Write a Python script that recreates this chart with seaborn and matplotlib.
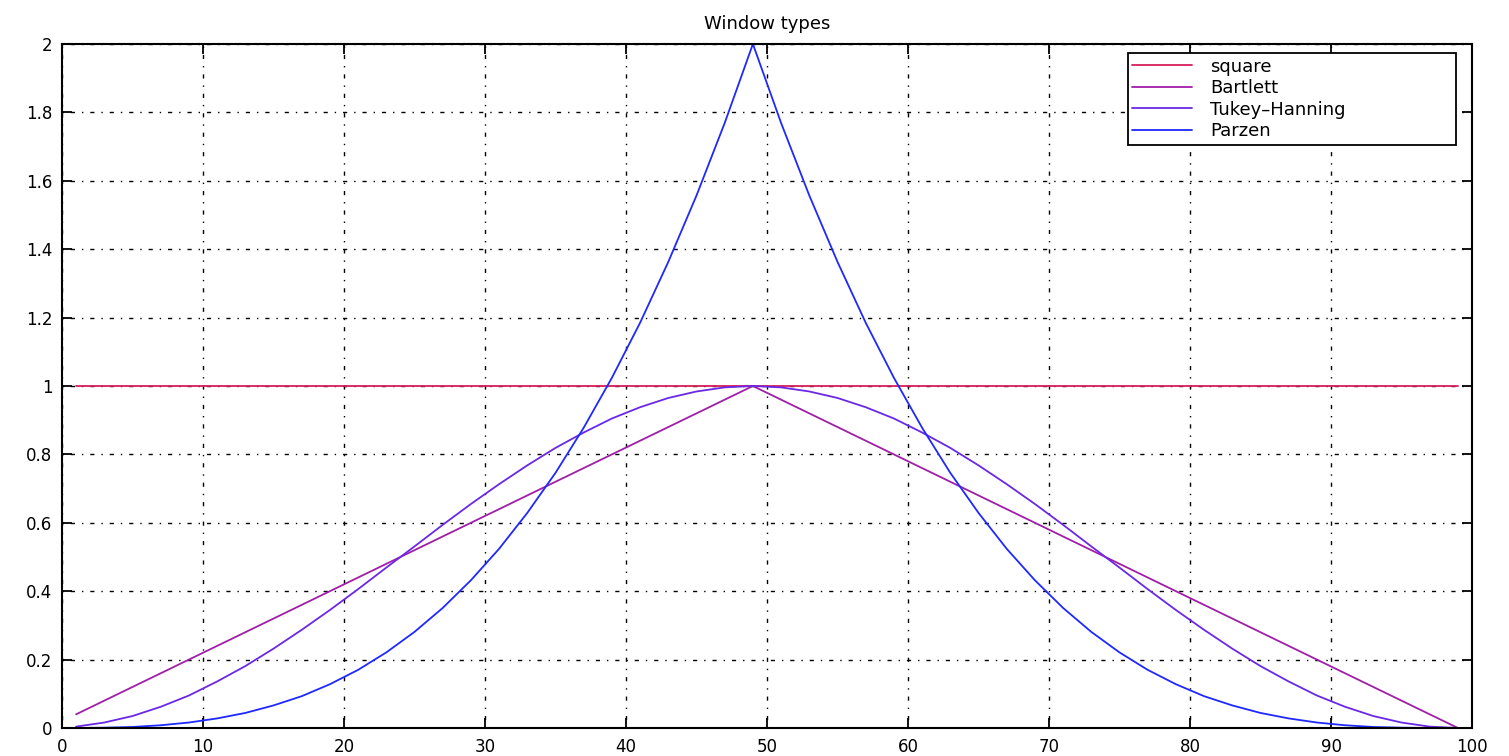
import pandas as pd
import matplotlib
matplotlib.use("Agg")
import matplotlib.pyplot as plt
import seaborn as sns

# sample positions (lag index)
x = list(range(1, 100, 2))

square = [1.0] * 50
bartlett = [0.04, 0.08, 0.12, 0.16, 0.20, 0.24, 0.28, 0.32, 0.36, 0.40, 0.44, 0.48,
            0.52, 0.56, 0.60, 0.64, 0.68, 0.72, 0.76, 0.80, 0.84, 0.88, 0.92, 0.96,
            1.00,
            0.96, 0.92, 0.88, 0.84, 0.80, 0.76, 0.72, 0.68, 0.64, 0.60, 0.56, 0.52,
            0.48, 0.44, 0.40, 0.36, 0.32, 0.28, 0.24, 0.20, 0.16, 0.12, 0.08, 0.04, 0.0]
tukey = [0.004, 0.016, 0.035, 0.062, 0.095, 0.136, 0.181, 0.232, 0.287, 0.345, 0.406, 0.469,
         0.531, 0.594, 0.655, 0.713, 0.768, 0.819, 0.864, 0.905, 0.938, 0.965, 0.984, 0.996,
         1.000,
         0.996, 0.984, 0.965, 0.938, 0.905, 0.864, 0.819, 0.768, 0.713, 0.655, 0.594, 0.531,
         0.469, 0.406, 0.345, 0.287, 0.232, 0.181, 0.136, 0.095, 0.062, 0.035, 0.016, 0.004, 0.0]
parzen = [0.000, 0.001, 0.003, 0.008, 0.016, 0.028, 0.044, 0.066, 0.093, 0.128, 0.170, 0.221,
          0.281, 0.351, 0.432, 0.524, 0.629, 0.746, 0.878, 1.024, 1.185, 1.363, 1.557, 1.769,
          2.000,
          1.769, 1.557, 1.363, 1.185, 1.024, 0.878, 0.746, 0.629, 0.524, 0.432, 0.351, 0.281,
          0.221, 0.170, 0.128, 0.093, 0.066, 0.044, 0.028, 0.016, 0.008, 0.003, 0.001, 0.000, 0.0]

names = ['square', 'Bartlett', 'Tukey\u2013Hanning', 'Parzen']
colors = ['#d81c5a', '#a01ea8', '#6a28e6', '#1e28ff']

frames = []
for name, vals in zip(names, [square, bartlett, tukey, parzen]):
    frames.append(pd.DataFrame({'lag': x, 'w': vals, 'window': name}))
df = pd.concat(frames, ignore_index=True)

sns.set_style("white")
plt.rcParams['font.family'] = ['DejaVu Sans']
plt.rcParams['text.color'] = 'black'

fig = plt.figure(figsize=(15.09, 7.56), dpi=100)
ax = fig.add_axes([62 / 1509, 1 - 728 / 756, (1472 - 62) / 1509, (728 - 44) / 756])

sns.lineplot(data=df, x='lag', y='w', hue='window', hue_order=names,
             palette=dict(zip(names, colors)), linewidth=1.3, ax=ax, zorder=3)

ax.set_xlim(0, 100)
ax.set_ylim(0, 2)
ax.set_xticks(range(0, 101, 10))
ax.set_yticks([0, 0.2, 0.4, 0.6, 0.8, 1, 1.2, 1.4, 1.6, 1.8, 2])
ax.set_yticklabels(['0', '0.2', '0.4', '0.6', '0.8', '1', '1.2', '1.4', '1.6', '1.8', '2'])
ax.set_xlabel('')
ax.set_ylabel('')
ax.grid(True, color='black', linestyle=(0, (1, 5, 3, 5)), linewidth=1.0)
ax.tick_params(direction='in', length=7, width=1.3, colors='black',
               top=True, right=True, bottom=True, left=True, labelsize=12, pad=7)
for s in ax.spines.values():
    s.set_color('black')
    s.set_linewidth(1.5)
    s.set_visible(True)
    s.set_zorder(4)

ax.set_title('Window types', fontsize=13, pad=11, color='black')

# legend box stretched to the reference's width
leg = ax.legend(loc='upper left', bbox_to_anchor=(0.756, 0.851, 0.9887 - 0.756, 0.1358),
                mode='expand', fontsize=13,
                frameon=True, fancybox=False, edgecolor='black', framealpha=1,
                handlelength=3.3, handletextpad=1.0, borderpad=0.25,
                labelspacing=0.2, borderaxespad=0)
leg.get_frame().set_linewidth(1.3)
leg.set_zorder(5)
for t in leg.get_texts():
    t.set_color('black')
for h in leg.get_lines():
    h.set_linewidth(1.3)

fig.savefig('out.png', dpi=100)
